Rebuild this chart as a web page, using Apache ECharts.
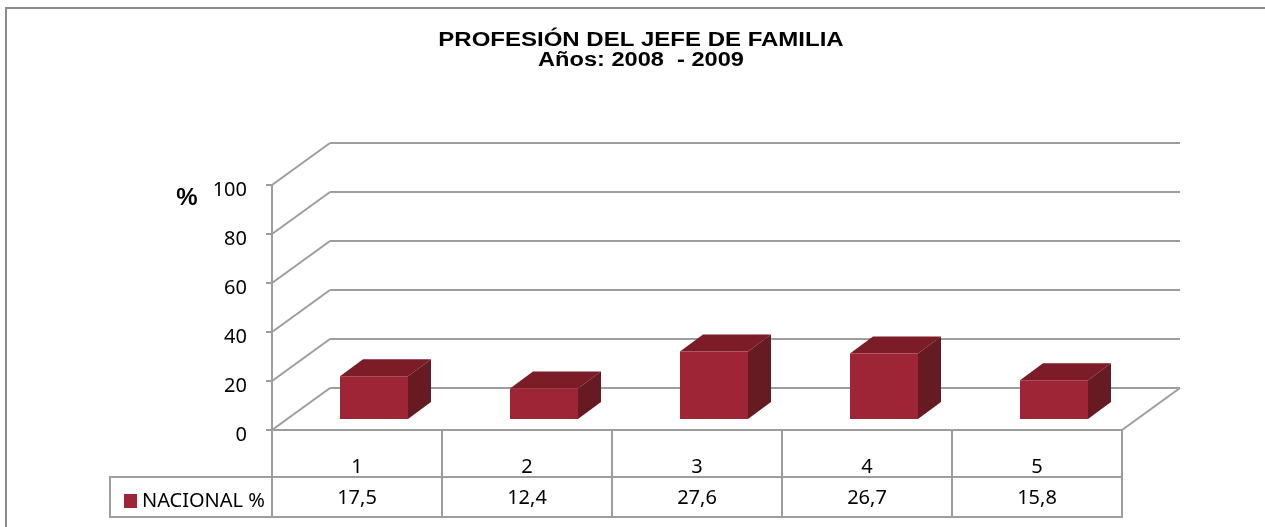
<!DOCTYPE html>
<html>
<head>
<meta charset="utf-8">
<title>Profesión del jefe de familia</title>
<script src="https://cdn.jsdelivr.net/npm/echarts@6/dist/echarts.min.js"></script>
<style>
  html, body { margin: 0; padding: 0; background: #fff; overflow: hidden; }
  #chart { width: 1265px; height: 527px; }
</style>
</head>
<body>
<div id="chart"></div>
<script>
// data
var categories = ['1', '2', '3', '4', '5'];
var nacional = [17.5, 12.4, 27.6, 26.7, 15.8];
var yTicks = [0, 20, 40, 60, 80, 100];
var seriesName = 'NACIONAL %';

// fake 3D: offsets (px) from the front plane
var DEPTH = [58, -42];      // back wall
var BAR_FRONT = [17, -11];  // front face of the boxes
var BAR_BACK = [40, -28];   // back face of the boxes

var gridColor = '#9d9d9d';
var labelFont = 'Noto Sans';

var chart = echarts.init(document.getElementById('chart'));

function fmt(v) {
  return v.toFixed(1).replace('.', ',');
}

// walls, gridlines and floor
function renderFrame(params, api) {
  var cs = params.coordSys;
  var y = api.coord([0, api.value(1)])[1];
  var st = { stroke: gridColor, lineWidth: 2 };
  var kids = [
    { type: 'line', shape: { x1: cs.x, y1: y, x2: cs.x + DEPTH[0], y2: y + DEPTH[1] }, style: st },
    { type: 'line', shape: { x1: cs.x + DEPTH[0], y1: y + DEPTH[1], x2: cs.x + cs.width + DEPTH[0], y2: y + DEPTH[1] }, style: st }
  ];
  if (api.value(1) === 0) {
    kids.push({ type: 'line', shape: { x1: cs.x + cs.width, y1: y, x2: cs.x + cs.width + DEPTH[0], y2: y + DEPTH[1] }, style: st });
  }
  return { type: 'group', children: kids, silent: true };
}

// one box per category
function renderBox(params, api) {
  var i = api.value(0);
  var base = api.coord([i, 0]);
  var top = api.coord([i, api.value(1)]);
  var bw = api.size([1, 0])[0] * 0.4;
  var L = base[0] - bw / 2, R = base[0] + bw / 2;
  var T = top[1], B = base[1];
  var f = BAR_FRONT, b = BAR_BACK;
  return {
    type: 'group',
    children: [
      {
        type: 'polygon',
        shape: { points: [[L + f[0], T + f[1]], [R + f[0], T + f[1]], [R + b[0], T + b[1]], [L + b[0], T + b[1]]] },
        style: { fill: '#7b1c27' }
      },
      {
        type: 'polygon',
        shape: { points: [[R + f[0], T + f[1]], [R + b[0], T + b[1]], [R + b[0], B + b[1]], [R + f[0], B + f[1]]] },
        style: { fill: '#661a22' }
      },
      {
        type: 'rect',
        shape: { x: L + f[0], y: T + f[1], width: bw, height: B - T },
        style: { fill: '#9e2536' }
      }
    ]
  };
}

var option = {
  animation: false,
  backgroundColor: '#fff',
  grid: { left: 272, right: 143, top: 185, bottom: 97 },
  legend: {
    data: [seriesName],
    left: 119,
    top: 486,
    icon: 'rect',
    itemWidth: 13,
    itemHeight: 14,
    itemStyle: { color: '#9e2536' },
    textStyle: { fontFamily: labelFont, fontSize: 20, color: '#000' }
  },
  xAxis: [
    {
      type: 'category',
      data: categories,
      axisLine: { show: true, lineStyle: { color: gridColor, width: 2 } },
      axisTick: { show: true, length: 87, lineStyle: { color: gridColor, width: 2 } },
      axisLabel: { margin: 27, fontFamily: labelFont, fontSize: 20, color: '#000' },
      splitLine: { show: false }
    },
    {
      type: 'category',
      data: categories,
      position: 'bottom',
      offset: 47,
      axisLine: { show: false },
      axisTick: { show: false },
      axisLabel: {
        margin: 11,
        fontFamily: labelFont, fontSize: 20, color: '#000',
        formatter: function (val, idx) { return fmt(nacional[idx]); }
      },
      splitLine: { show: false }
    }
  ],
  yAxis: {
    type: 'value',
    min: 0,
    max: 100,
    interval: 20,
    axisLine: { show: true, lineStyle: { color: gridColor, width: 2 } },
    axisTick: { show: true, length: 6, lineStyle: { color: gridColor, width: 2 } },
    axisLabel: { margin: 25, fontFamily: labelFont, fontSize: 20, color: '#000', verticalAlign: 'top', lineHeight: 10 },
    splitLine: { show: false }
  },
  graphic: [
    { type: 'polyline', shape: { points: [[6, 640], [6, 8], [1320, 8]] }, style: { fill: 'none', stroke: '#8c8c8c', lineWidth: 2 }, silent: true },
    { type: 'rect', shape: { x: 110, y: 477, width: 1012, height: 40 }, style: { fill: 'none', stroke: gridColor, lineWidth: 2 }, silent: true },
    {
      type: 'text', x: 641, y: 40, scaleX: 1.2,
      style: { text: 'PROFESIÓN DEL JEFE DE FAMILIA', fontFamily: 'Liberation Sans', fontWeight: 'bold', fontSize: 20, fill: '#000',
        align: 'center', verticalAlign: 'middle', textAlign: 'center', textVerticalAlign: 'middle' }
    },
    {
      type: 'text', x: 641, y: 60, scaleX: 1.18,
      style: { text: 'Años: 2008  - 2009', fontFamily: 'Liberation Sans', fontWeight: 'bold', fontSize: 20, fill: '#000',
        align: 'center', verticalAlign: 'middle', textAlign: 'center', textVerticalAlign: 'middle' }
    },
    {
      type: 'text', x: 187, y: 198,
      style: { text: '%', fontFamily: 'Liberation Sans', fontWeight: 'bold', fontSize: 24, fill: '#000',
        align: 'center', verticalAlign: 'middle', textAlign: 'center', textVerticalAlign: 'middle' }
    }
  ],
  series: [
    {
      name: 'frame',
      type: 'custom',
      renderItem: renderFrame,
      clip: false,
      silent: true,
      z: 1,
      data: yTicks.map(function (v) { return [0, v]; })
    },
    {
      name: seriesName,
      type: 'custom',
      renderItem: renderBox,
      clip: false,
      z: 3,
      itemStyle: { color: '#9e2536' },
      encode: { x: 0, y: 1 },
      data: nacional.map(function (v, i) { return [i, v]; })
    }
  ]
};

chart.setOption(option);
</script>
</body>
</html>
